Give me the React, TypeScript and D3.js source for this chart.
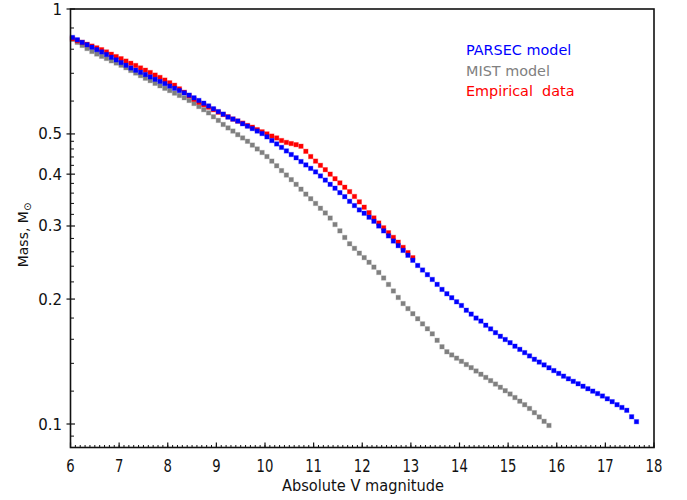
import React from 'react';
import * as d3 from 'd3';

// Absolute V magnitude grid of the plotted points (~0.1 mag spacing)
const MAG_GRID = [
  6.04, 6.14, 6.24, 6.34, 6.44, 6.54, 6.64, 6.74, 6.84, 6.94,
  7.04, 7.14, 7.24, 7.34, 7.44, 7.54, 7.64, 7.74, 7.84, 7.94,
  8.04, 8.14, 8.24, 8.34, 8.44, 8.54, 8.64, 8.74, 8.84, 8.94,
  9.04, 9.14, 9.24, 9.34, 9.44, 9.54, 9.64, 9.74, 9.84, 9.94,
  10.04, 10.14, 10.24, 10.34, 10.44, 10.54, 10.64, 10.74, 10.84, 10.94,
  11.04, 11.14, 11.24, 11.34, 11.44, 11.54, 11.64, 11.74, 11.84, 11.94,
  12.04, 12.14, 12.24, 12.34, 12.44, 12.54, 12.64, 12.74, 12.84, 12.94,
  13.04, 13.14, 13.24, 13.34, 13.44, 13.54, 13.64, 13.74, 13.84, 13.94,
  14.04, 14.14, 14.24, 14.34, 14.44, 14.54, 14.64, 14.74, 14.84, 14.94,
  15.04, 15.14, 15.24, 15.34, 15.44, 15.54, 15.64, 15.74, 15.84, 15.94,
  16.04, 16.14, 16.24, 16.34, 16.44, 16.54, 16.64, 16.74, 16.84, 16.94,
  17.04, 17.14, 17.24, 17.34, 17.44, 17.54, 17.64,
];

// PARSEC model masses (blue)
const PARSEC_MASS = [
  0.854, 0.843, 0.831, 0.820, 0.809, 0.798, 0.788,
  0.777, 0.765, 0.754, 0.743, 0.732, 0.721,
  0.712, 0.704, 0.695, 0.686, 0.677, 0.669,
  0.661, 0.652, 0.644, 0.636, 0.628, 0.620,
  0.611, 0.602, 0.593, 0.584, 0.575, 0.566, 0.558, 0.549,
  0.543, 0.537, 0.529, 0.522, 0.515, 0.508, 0.501,
  0.492, 0.482, 0.473, 0.464, 0.455,
  0.446, 0.438, 0.429, 0.421, 0.413,
  0.405, 0.396, 0.387, 0.378,
  0.370, 0.361, 0.353, 0.344, 0.336,
  0.328, 0.322, 0.315,
  0.308, 0.300,
  0.292, 0.284, 0.276, 0.269,
  0.262, 0.255, 0.248, 0.241, 0.235, 0.229,
  0.223, 0.217, 0.211,
  0.206, 0.2015, 0.197, 0.193, 0.188,
  0.184, 0.180, 0.177, 0.173, 0.1695, 0.166,
  0.1627, 0.1598, 0.157, 0.154, 0.1513, 0.1486, 0.1459, 0.1432,
  0.141, 0.1388, 0.1366, 0.1345, 0.1324, 0.1304,
  0.1285, 0.1267, 0.125, 0.1233, 0.1216, 0.120, 0.1184, 0.1168,
  0.115, 0.1132, 0.1113, 0.1096, 0.1079,
  0.1041, 0.1013,
];

// MIST model masses (grey)
const MIST_MASS = [
  0.845, 0.831, 0.817, 0.803, 0.790,
  0.779, 0.769, 0.760, 0.750, 0.741,
  0.732, 0.722, 0.711, 0.701, 0.691, 0.681, 0.672,
  0.662, 0.653, 0.644, 0.636, 0.627, 0.619, 0.611,
  0.602, 0.592, 0.582, 0.572,
  0.562, 0.550, 0.539, 0.527,
  0.517, 0.508, 0.498, 0.489,
  0.480, 0.470, 0.460, 0.451,
  0.441, 0.430, 0.419, 0.408,
  0.398, 0.388, 0.378,
  0.368, 0.358, 0.349, 0.340, 0.331, 0.3225,
  0.3135, 0.3025, 0.292, 0.2815,
  0.2718, 0.265, 0.258, 0.2517, 0.2453,
  0.2388, 0.2318,
  0.2248, 0.2169, 0.2092, 0.2018,
  0.1951, 0.1897, 0.1844, 0.1793, 0.1743, 0.1696,
  0.1649, 0.1591, 0.1535,
  0.1493, 0.1467, 0.1441, 0.1416, 0.1391,
  0.1367, 0.1342, 0.1318, 0.1295, 0.1272,
  0.1248, 0.1226, 0.1203,
  0.1181, 0.1158, 0.1135, 0.1113,
  0.1090, 0.1065, 0.1040, 0.1015, 0.0992,
];

// Empirical data masses (red)
const EMPIRICAL_MASS = [
  0.848, 0.839, 0.831, 0.822, 0.814, 0.806,
  0.798, 0.788, 0.778, 0.768, 0.759,
  0.749, 0.740, 0.731, 0.721, 0.712,
  0.703, 0.693, 0.684, 0.674, 0.664,
  0.655, 0.642, 0.630, 0.618, 0.606,
  0.596, 0.588, 0.580, 0.572, 0.564, 0.557,
  0.550, 0.543, 0.537, 0.531, 0.524,
  0.519, 0.512, 0.506, 0.500, 0.494, 0.489,
  0.482, 0.477, 0.474, 0.471, 0.467,
  0.454, 0.441, 0.430,
  0.420, 0.410,
  0.400, 0.390, 0.381, 0.372, 0.363,
  0.3534, 0.343, 0.333, 0.323, 0.3137,
  0.305, 0.297, 0.289, 0.2816,
  0.2742, 0.2664, 0.2588, 0.2516,
];

const X_TICKS = [6, 7, 8, 9, 10, 11, 12, 13, 14, 15, 16, 17, 18];
const X_TICK_LABELS = ['6', '7', '8', '9', '10', '11', '12', '13', '14', '15', '16', '17', '18'];
const Y_MAJOR = [0.1, 0.2, 0.3, 0.4, 0.5, 1];
const Y_TICK_LABELS = ['0.1', '0.2', '0.3', '0.4', '0.5', '1'];
const Y_MINOR = [
  0.0935, 0.12, 0.14, 0.16, 0.18, 0.22, 0.24, 0.26, 0.28, 0.32, 0.34, 0.36, 0.38,
  0.42, 0.44, 0.46, 0.48, 0.6, 0.7, 0.8, 0.9,
];

const SERIES_NAMES = ['PARSEC model', 'MIST model', 'Empirical  data'];
const SERIES_COLORS = ['#0000ff', '#808080', '#ff0000'];

export default function App() {
  const left = 70.5;
  const right = 654;
  const top = 9;
  const bottom = 447.5;
  const x = d3.scaleLinear().domain([6, 18]).range([left, right]);
  const y = d3.scaleLog().domain([0.1, 1]).range([424, top]);

  const minorX = d3.range(60, 181).map((v) => v / 10);

  const series = [
    { name: SERIES_NAMES[1], color: SERIES_COLORS[1], mass: MIST_MASS },
    { name: SERIES_NAMES[2], color: SERIES_COLORS[2], mass: EMPIRICAL_MASS },
    { name: SERIES_NAMES[0], color: SERIES_COLORS[0], mass: PARSEC_MASS },
  ];

  const sq = 4.4;
  const axisColor = '#111';
  const font = "'DejaVu Sans', sans-serif";

  return (
    <svg
      width={687}
      height={500}
      style={{ position: 'absolute', left: 0, top: 0, background: '#fff' }}
    >
      <rect x={0} y={0} width={687} height={500} fill="#fff" />
      {/* points */}
      {series.map((s) => (
        <g key={s.name}>
          {s.mass.map((m, i) => (
            <rect
              key={i}
              x={x(MAG_GRID[i]) - sq / 2}
              y={y(m) - sq / 2}
              width={sq}
              height={sq}
              fill={s.color}
              stroke={s.color}
              strokeOpacity={0.3}
              strokeWidth={1}
            />
          ))}
        </g>
      ))}

      {/* frame */}
      <rect
        x={left}
        y={top}
        width={right - left}
        height={bottom - top}
        fill="none"
        stroke={axisColor}
        strokeWidth={1.6}
      />

      {/* x ticks */}
      {minorX.map((v, i) => (
        <line key={'mx' + i} x1={x(v)} x2={x(v)} y1={bottom} y2={bottom - 2.5} stroke={axisColor} strokeWidth={1} />
      ))}
      {X_TICKS.map((v, i) => (
        <g key={'xt' + i}>
          <line x1={x(v)} x2={x(v)} y1={bottom} y2={bottom - 5} stroke={axisColor} strokeWidth={1.2} />
          <text
            x={x(v)}
            y={472}
            textAnchor="middle"
            fontFamily={font}
            fontSize={18.5}
            fill="#111"
            textLength={X_TICK_LABELS[i].length * 8.4}
            lengthAdjust="spacingAndGlyphs"
          >
            {X_TICK_LABELS[i]}
          </text>
        </g>
      ))}

      {/* y ticks */}
      {Y_MINOR.map((v, i) => (
        <line key={'my' + i} x1={left} x2={left + 3.5} y1={y(v)} y2={y(v)} stroke={axisColor} strokeWidth={1} />
      ))}
      {Y_MAJOR.map((v, i) => (
        <g key={'yt' + i}>
          <line x1={left - 4} x2={left + 4.5} y1={y(v)} y2={y(v)} stroke={axisColor} strokeWidth={1.2} />
          <text
            x={62}
            y={y(v) + 5.5}
            textAnchor="end"
            fontFamily={font}
            fontSize={15}
            fill="#111"
          >
            {Y_TICK_LABELS[i]}
          </text>
        </g>
      ))}

      {/* axis titles */}
      <text
        x={363}
        y={491}
        textAnchor="middle"
        fontFamily={font}
        fontSize={16.5}
        fill="#111"
        textLength={162}
        lengthAdjust="spacingAndGlyphs"
      >
        Absolute V magnitude
      </text>
      <text
        transform="translate(28,235) rotate(-90)"
        textAnchor="middle"
        fontFamily={font}
        fontSize={14}
        fill="#111"
      >
        Mass, M
        <tspan fontSize={10} dy={3}>⊙</tspan>
      </text>

      {/* legend */}
      {SERIES_NAMES.map((n, i) => (
        <text
          key={n}
          x={466}
          y={55 + i * 20.5}
          fontFamily={font}
          fontSize={14.4}
          fill={SERIES_COLORS[i]}
          style={{ whiteSpace: 'pre' }}
        >
          {n}
        </text>
      ))}
    </svg>
  );
}
